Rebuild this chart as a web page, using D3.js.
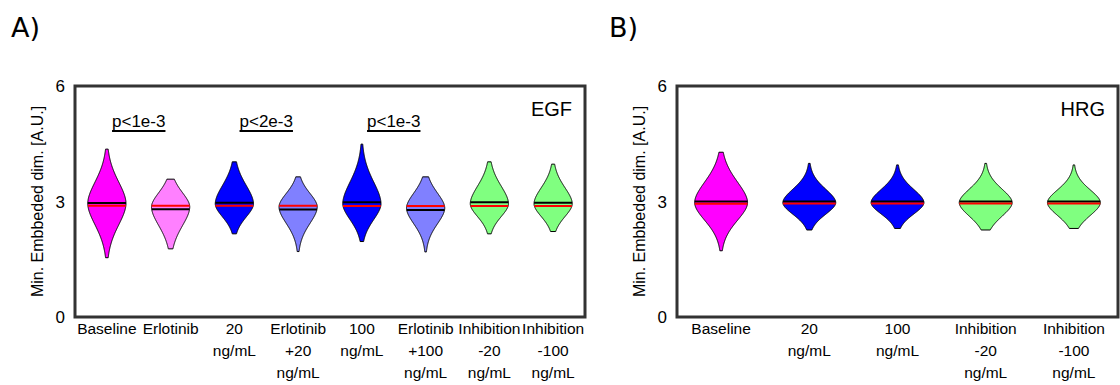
<!DOCTYPE html>
<html><head><meta charset="utf-8">
<script src="https://cdn.jsdelivr.net/npm/d3@7"></script>
<style>
html,body{margin:0;padding:0;background:#fff;}
svg{display:block;}
text{font-family:"Liberation Sans",Arial,sans-serif;fill:#000;}
</style></head>
<body>
<svg id="chart" width="1120" height="385"></svg>
<script>
// ---------- DATA ----------
const yTicks = [0, 3, 6];
const yLabel = "Min. Embbeded dim.  [A.U.]";

// Panel A (EGF)
const egfCategories = [["Baseline"], ["Erlotinib"], ["20", "ng/mL"], ["Erlotinib", "+20", "ng/mL"],
  ["100", "ng/mL"], ["Erlotinib", "+100", "ng/mL"], ["Inhibition", "-20", "ng/mL"], ["Inhibition", "-100", "ng/mL"]];
const egfMode   = [2.95, 2.86, 2.94, 2.86, 2.94, 2.83, 2.94, 2.94];
const egfMin    = [1.54, 1.77, 2.16, 1.70, 1.96, 1.69, 2.16, 2.22];
const egfMax    = [4.36, 3.58, 4.03, 3.64, 4.49, 3.64, 4.03, 3.97];
const egfSpreadUp   = [0.57, 0.38, 0.49, 0.36, 0.58, 0.40, 0.47, 0.43];
const egfSpreadDown = [0.57, 0.50, 0.35, 0.44, 0.42, 0.42, 0.34, 0.34];
const egfMedian = [2.96, 2.80, 2.97, 2.79, 2.98, 2.78, 2.98, 2.97];
const egfMean   = [2.89, 2.89, 2.89, 2.89, 2.88, 2.88, 2.88, 2.88];
const egfPvalues = [{a: 1, b: 2, label: "p<1e-3"}, {a: 3, b: 4, label: "p<2e-3"}, {a: 5, b: 6, label: "p<1e-3"}];

// Panel B (HRG)
const hrgCategories = [["Baseline"], ["20", "ng/mL"], ["100", "ng/mL"], ["Inhibition", "-20", "ng/mL"], ["Inhibition", "-100", "ng/mL"]];
const hrgMode   = [2.97, 2.97, 2.97, 2.97, 2.97];
const hrgMin    = [1.72, 2.26, 2.30, 2.26, 2.30];
const hrgMax    = [4.28, 3.99, 3.95, 3.99, 3.95];
const hrgSpreadUp   = [0.55, 0.36, 0.35, 0.36, 0.34];
const hrgSpreadDown = [0.47, 0.31, 0.30, 0.36, 0.34];
const hrgMedian = [3.00, 3.00, 3.00, 3.00, 3.00];
const hrgMean   = [2.94, 2.95, 2.95, 2.95, 2.95];

// ---------- STYLE ----------
const MAGENTA = "#ff00ff", PINK = "#ff80ff", BLUE = "#0000ff", LBLUE = "#8080ff", GREEN = "#80ff80";
const egfColors = [MAGENTA, PINK, BLUE, LBLUE, BLUE, LBLUE, GREEN, GREEN];
const hrgColors = [MAGENTA, BLUE, BLUE, GREEN, GREEN];
const HALF_W = 0.3;

const svg = d3.select("#chart");

function panel(opts) {
  const {left, right, top, bottom, cats, mode, vmin, vmax, up, down, med, mean, colors, tag, letter, letterX, pvals} = opts;
  const n = cats.length;
  const x = d3.scaleLinear().domain([0.5, n + 0.5]).range([left, right]);
  const y = d3.scaleLinear().domain([0, 6]).range([bottom, top]);
  const g = svg.append("g");

  // panel letter
  svg.append("text").attr("x", letterX).attr("y", 37)
    .style("font-family", "'DejaVu Sans', sans-serif").style("font-size", "27px").text(letter);

  // y tick labels
  g.selectAll("text.yt").data(yTicks).join("text").attr("class", "yt")
    .attr("x", left - 10).attr("y", d => y(d)).attr("dy", "0.36em")
    .attr("text-anchor", "end").style("font-size", "17px").text(d => d);

  // y label
  g.append("text").attr("transform", `translate(${left - 32},${(top + bottom) / 2}) rotate(-90)`)
    .attr("text-anchor", "middle").style("font-size", "16px").text(yLabel);

  // x labels
  cats.forEach((lines, i) => {
    const t = g.append("text").attr("x", x(i + 1)).attr("y", bottom + 17)
      .attr("text-anchor", "middle").style("font-size", "15.5px");
    lines.forEach((ln, k) => t.append("tspan").attr("x", x(i + 1)).attr("dy", k === 0 ? 0 : 22).text(ln));
  });

  // violins
  const area = d3.area().x0(d => x(d.c - d.w)).x1(d => x(d.c + d.w)).y(d => y(d.v)).curve(d3.curveLinear);
  const widthAt = (i, v) => {
    const s = v >= mode[i] ? up[i] : down[i];
    const z = Math.abs(v - mode[i]) / s;
    return HALF_W * Math.exp(-0.5 * Math.pow(z, 1.85));
  };
  for (let i = 0; i < n; i++) {
    const pts = [];
    const steps = 200;
    for (let k = 0; k <= steps; k++) {
      const v = vmin[i] + (vmax[i] - vmin[i]) * k / steps;
      pts.push({c: i + 1, v, w: widthAt(i, v)});
    }
    pts.push({c: i + 1, v: mode[i], w: HALF_W});
    pts.sort((a, b) => a.v - b.v);
    g.append("path").attr("d", area(pts)).attr("fill", colors[i])
      .attr("stroke", "#000").attr("stroke-width", 1);
    // median (black) and mean (red)
    [[med[i], "#000"], [mean[i], "#ff0000"]].forEach(([v, col]) => {
      const w = widthAt(i, v);
      g.append("line").attr("x1", x(i + 1 - w)).attr("x2", x(i + 1 + w))
        .attr("y1", y(v)).attr("y2", y(v)).attr("stroke", col).attr("stroke-width", 2);
    });
  }

  // p-values
  (pvals || []).forEach(p => {
    const cx = (x(p.a) + x(p.b)) / 2;
    const t = g.append("text").attr("x", cx).attr("y", 127).attr("text-anchor", "middle")
      .style("font-size", "17px").text(p.label);
    const bb = t.node().getBBox();
    g.append("line").attr("x1", bb.x).attr("x2", bb.x + bb.width).attr("y1", 131).attr("y2", 131)
      .attr("stroke", "#000").attr("stroke-width", 2);
  });

  // tag
  g.append("text").attr("x", right - 13).attr("y", 116).attr("text-anchor", "end")
    .style("font-size", "20px").text(tag);

  // frame
  g.append("rect").attr("x", left).attr("y", top).attr("width", right - left).attr("height", bottom - top)
    .attr("fill", "none").attr("stroke", "#333").attr("stroke-width", 3);
}

panel({left: 75, right: 585, top: 86, bottom: 317, cats: egfCategories, mode: egfMode, vmin: egfMin, vmax: egfMax,
  up: egfSpreadUp, down: egfSpreadDown, med: egfMedian, mean: egfMean, colors: egfColors, tag: "EGF",
  letter: "A)", letterX: 11, pvals: egfPvalues});
panel({left: 677, right: 1118, top: 86, bottom: 317, cats: hrgCategories, mode: hrgMode, vmin: hrgMin, vmax: hrgMax,
  up: hrgSpreadUp, down: hrgSpreadDown, med: hrgMedian, mean: hrgMean, colors: hrgColors, tag: "HRG",
  letter: "B)", letterX: 609, pvals: []});
</script>
</body></html>
